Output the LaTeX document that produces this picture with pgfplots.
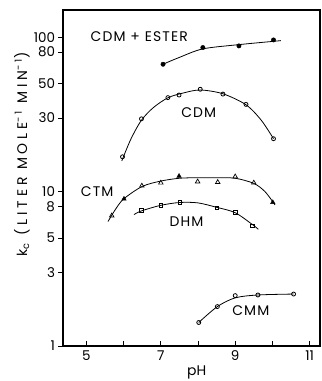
\documentclass[border=0pt]{standalone}
\usepackage{fontspec}
\setmainfont{Poppins}
\usepackage{pgfplots}
\pgfplotsset{compat=1.18}
\newcommand{\lbl}{\fontsize{14}{15}\selectfont\addfontfeature{LetterSpace=8}}
\begin{document}
\begin{tikzpicture}
\begin{axis}[
  scale only axis, width=257bp, height=336bp,
  ymode=log, xmin=4.37, xmax=11.28, ymin=1, ymax=150,
  xtick={5,6,7,8,9,10,11}, xticklabels={5,,7,,9,,11},
  ytick={1,3,5,8,10,30,50,80,100}, yticklabels={1,3,5,8,10,30,50,80,100},
  minor ytick={}, minor xtick={},
  xtick pos=bottom, ytick pos=left,
  tick align=outside, major tick length=4.5bp,
  x tick style={yshift=4.5bp, line width=0.8pt, black},
  y tick style={line width=0.8pt, black},
  axis line style={line width=1.3pt},
  every tick label/.append style={font=\fontsize{13.5}{14}\selectfont},
  /pgf/number format/assume math mode=true,
  xticklabel style={yshift=3bp},
  xlabel={pH}, xlabel style={font=\fontsize{14}{15}\selectfont, at={(axis description cs:0.52,0)}, anchor=center, yshift=-26.5bp},
  ylabel={k\textsubscript{c} (LITER MOLE\textsuperscript{-1} MIN\textsuperscript{-1})},
  ylabel style={font=\fontsize{14}{15}\selectfont\addfontfeature{LetterSpace=27}, at={(axis description cs:-0.16,0.57)}, anchor=center},
  clip=false,
]
\coordinate (sw) at (rel axis cs:0,0);
\coordinate (ne) at (rel axis cs:1,1);
% curves
\addplot[black, line width=0.8pt, smooth, no marks] coordinates {(7.06,66.8)(7.5,74)(8.13,84)(9.1,89.5)(10.03,94)(10.23,95)};
\addplot[black, line width=0.8pt, smooth, no marks] coordinates {(5.95,15.8)(6.2,22)(6.48,29)(6.8,35)(7.19,40.5)(7.6,43.5)(8.06,45.5)(8.67,43)(9.29,36.5)(9.7,29)(10.03,22)};
\addplot[black, line width=0.8pt, smooth, no marks] coordinates {(5.58,6.4)(5.8,7.8)(6.01,9.0)(6.5,10.8)(7.0,11.7)(7.5,12.2)(8.0,12.3)(8.5,12.3)(9.0,12.2)(9.5,11.3)(9.8,10.0)(10.07,8.2)};
\addplot[black, line width=0.8pt, smooth, no marks] coordinates {(6.28,7.1)(6.48,7.5)(7.0,8.15)(7.51,8.5)(8.0,8.45)(8.51,7.9)(9.0,7.3)(9.47,6.1)(9.62,5.7)};
\addplot[black, line width=0.8pt, smooth, no marks] coordinates {(8.02,1.42)(8.52,1.80)(9.0,2.05)(9.61,2.14)(10.57,2.17)};
% markers
\addplot[only marks, mark=*, mark size=2.2bp, black] coordinates {(7.06,66.8)(8.13,85.7)(9.10,87.8)(10.03,96.0)};
\addplot[only marks, mark=o, mark size=2bp, black, mark options={fill=white, line width=0.8pt}] coordinates {(5.97,16.8)(6.48,29.6)(7.19,40.6)(7.49,42.2)(8.06,46)(8.67,42.8)(9.29,36.7)(10.03,22.0)};
\addplot[only marks, mark=triangle, mark size=2.6bp, black, mark options={fill=white, line width=0.7pt}] coordinates {(5.68,6.98)(6.49,10.9)(7.0,11.4)(7.99,11.6)(8.53,11.5)(9.0,12.5)(9.5,11.4)};
\addplot[only marks, mark=triangle*, mark size=2.6bp, black] coordinates {(6.01,8.97)(7.49,12.6)(10.01,8.52)};
\addplot[only marks, mark=square, mark size=1.8bp, black, mark options={fill=white, line width=0.8pt}] coordinates {(6.48,7.56)(7.0,8.15)(7.51,8.53)(8.51,7.84)(9.0,7.34)(9.47,6.01)};
\addplot[only marks, mark=o, mark size=2bp, black, mark options={fill=white, line width=0.8pt}] coordinates {(8.02,1.42)(8.52,1.80)(9.0,2.12)(9.61,2.14)(10.57,2.17)};
% labels
\node[font=\lbl] at (axis cs:6.42,101) {CDM + ESTER};
\node[font=\lbl] at (axis cs:8.02,32.6) {CDM};
\node[font=\lbl] at (axis cs:5.29,10.05) {CTM};
\node[font=\lbl] at (axis cs:7.69,6.41) {DHM};
\node[font=\lbl] at (axis cs:9.42,1.69) {CMM};
\end{axis}
\pgfresetboundingbox
\path ([shift={(-63bp,-35bp)}]sw) rectangle ([shift={(2bp,10bp)}]ne);
\end{tikzpicture}
\end{document}
